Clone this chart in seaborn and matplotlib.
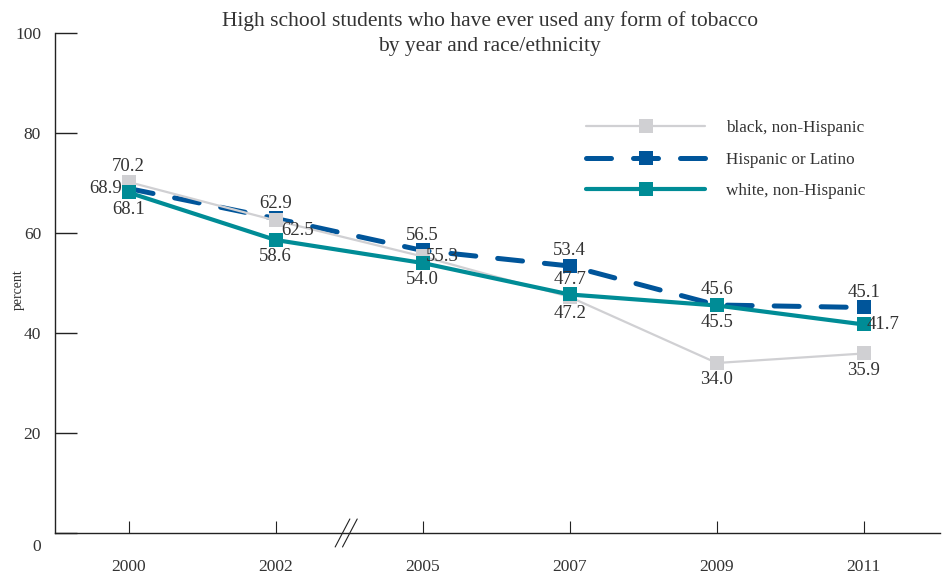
import numpy as np
import pandas as pd
import seaborn as sns
import matplotlib.pyplot as plt
from matplotlib.transforms import ScaledTranslation

# data
years = ['2000', '2002', '2005', '2007', '2009', '2011']
black = [70.2, 62.5, 55.3, 47.2, 34.0, 35.9]
hispanic = [68.9, 62.9, 56.5, 53.4, 45.6, 45.1]
white = [68.1, 58.6, 54.0, 47.7, 45.5, 41.7]

# where each value label sits relative to its marker
black_pos = ['above', 'right_low', 'right', 'below', 'below', 'below']
hispanic_pos = ['left', 'above', 'above', 'above', 'above', 'above']
white_pos = ['below', 'below', 'below', 'above', 'below', 'right']

sns.set_style('white')
plt.rcParams['font.family'] = ['Liberation Serif', 'DejaVu Serif']
plt.rcParams['text.color'] = '#333333'

pos = np.arange(len(years))
df = pd.DataFrame({'pos': pos, 'year': years, 'black': black,
                   'hispanic': hispanic, 'white': white})

fig = plt.figure(figsize=(9.42, 5.76), dpi=100)
ax = fig.add_axes([0.0584, 0.0747, 0.9398, 0.868])

GRAY = '#d0d0d3'
BLUE = '#00559a'
TEAL = '#008c96'

# draw order: hispanic at the bottom, white on top
sns.lineplot(data=df, x='pos', y='hispanic', ax=ax, color=BLUE, linewidth=3.6,
             linestyle=(0, (5.0, 4.4)), dash_capstyle='round', marker='s',
             markersize=10, markeredgewidth=0, label='Hispanic or Latino', zorder=2)
sns.lineplot(data=df, x='pos', y='black', ax=ax, color=GRAY, linewidth=1.6,
             marker='s', markersize=10, markeredgewidth=0,
             label='black, non-Hispanic', zorder=3)
sns.lineplot(data=df, x='pos', y='white', ax=ax, color=TEAL, linewidth=3.0,
             solid_capstyle='round', marker='s', markersize=10, markeredgewidth=0,
             label='white, non-Hispanic', zorder=4)

offsets = {'above': ((0, 11), 'center'), 'below': ((0, -12), 'center'),
           'left': ((-5, 0), 'right'), 'right': ((2, 0), 'left'),
           'right_low': ((4, -7), 'left')}


def label_series(values, places):
    for x, v, p in zip(pos, values, places):
        off, ha = offsets[p]
        ax.annotate(f'{v:.1f}', (x, v), xytext=off, textcoords='offset points',
                    ha=ha, va='center', fontsize=13.5, color='#333333', zorder=6)


label_series(black, black_pos)
label_series(hispanic, hispanic_pos)
label_series(white, white_pos)

ax.set_xlim(-0.5, 5.52)
ax.set_ylim(0, 100)
ax.set_xticks(pos)
ax.set_xticklabels(years)
ax.set_yticks(np.arange(0, 101, 20))
ax.set_xlabel('')
ax.set_ylabel('')

for side in ['top', 'right']:
    ax.spines[side].set_visible(False)
for side in ['left', 'bottom']:
    ax.spines[side].set_color('#222222')
    ax.spines[side].set_linewidth(1.0)

ax.tick_params(axis='y', left=True, direction='in', length=16, width=1.0,
               color='#222222', pad=10, labelsize=12.5, labelcolor='#333333')
ax.tick_params(axis='x', bottom=True, direction='in', length=8.5, width=0.8,
               color='#222222', pad=19, labelsize=12.5, labelcolor='#333333')
# the zero label sits a little below the axis in the original
zero_lab = ax.yaxis.get_major_ticks()[0].label1
zero_lab.set_transform(zero_lab.get_transform()
                       + ScaledTranslation(0, -9 / 72, fig.dpi_scale_trans))

# axis break between 2002 and 2005
trans = ax.get_xaxis_transform()
for dx in (-0.025, 0.025):
    ax.plot([1.43 + dx, 1.53 + dx], [-0.028, 0.028], color='#222222',
            linewidth=0.8, transform=trans, clip_on=False)

fig.text(0.52, 0.942, 'High school students who have ever used any form of tobacco\n'
         'by year and race/ethnicity', ha='center', va='center',
         fontsize=15.5, color='#333333', linespacing=1.45)

fig.text(0.019, 0.497, 'percent', rotation=90, ha='center', va='center',
         fontsize=10, color='#333333')

handles, labels = ax.get_legend_handles_labels()
order = [1, 0, 2]
ax.legend([handles[i] for i in order], [labels[i] for i in order],
          loc='upper left', bbox_to_anchor=(0.59, 0.843), frameon=False,
          fontsize=12.3, handlelength=7.0, handletextpad=1.2, labelspacing=0.92,
          borderpad=0)

fig.savefig('out.png', dpi=100)
